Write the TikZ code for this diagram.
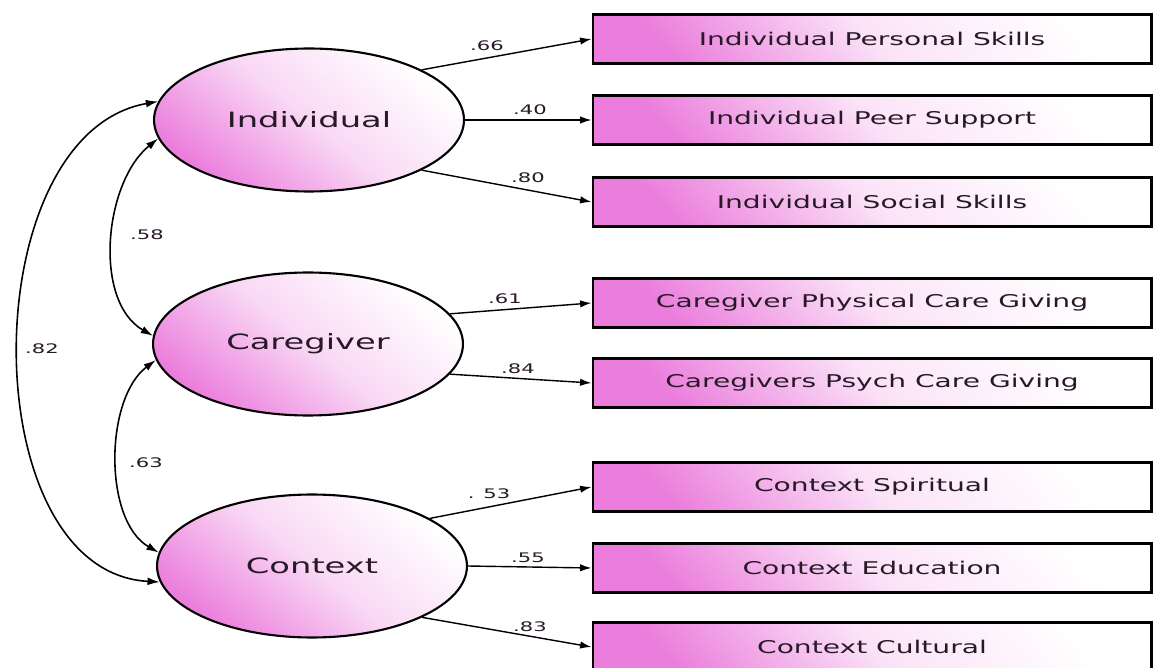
\documentclass[tikz,border=0pt]{standalone}
\usepackage{fontspec}
\newfontfamily\semfont{DejaVu Sans}[FakeStretch=1.6]
\usetikzlibrary{shapes.geometric,arrows.meta}
\definecolor{fillpink}{RGB}{235,125,220}
\definecolor{inkdark}{RGB}{40,25,40}

\begin{document}
\begin{tikzpicture}[x=0.02cm,y=0.02cm,
  latent/.style={ellipse,draw=black,line width=1.2pt,minimum width=6.2cm,minimum height=2.86cm,inner sep=0pt,
    top color=white,bottom color=fillpink,middle color=fillpink!30!white,shading angle=-40,
    font=\semfont\fontsize{12}{14}\selectfont,text=inkdark},
  obs/.style={rectangle,draw=black,line width=1.2pt,minimum width=11.18cm,minimum height=0.98cm,inner sep=0pt,
    top color=white,bottom color=fillpink,middle color=fillpink!22!white,shading angle=-48,
    font=\semfont\fontsize{10}{12}\selectfont,text=inkdark},
  load/.style={line width=0.8pt,-{Latex[length=6.5pt,width=4.2pt]}},
  cov/.style={line width=0.9pt,{Latex[length=7pt,width=4.4pt]}-{Latex[length=7pt,width=4.4pt]}},
  wt/.style={font=\semfont\fontsize{7.5}{9}\selectfont,text=inkdark,inner sep=0pt}]
\useasboundingbox (0,0) rectangle (1155,-668);
\fill[white] (0,0) rectangle (1155,-668);
% 潜变量（椭圆）
\node[latent] (ind)  at (309,-120) {Individual};
\node[latent] (care) at (308,-344) {Caregiver};
\node[latent] (ctx)  at (312,-566) {Context};
% 观测变量（矩形）
\foreach \y/\nm/\txt in {39/b1/Individual Personal Skills, 120/b2/Individual Peer Support,
    202/b3/Individual Social Skills, 303/b4/Caregiver Physical Care Giving,
    383/b5/Caregivers Psych Care Giving, 487/b6/Context Spiritual,
    568/b7/Context Education, 647/b8/Context Cultural}
  \node[obs] (\nm) at (872,-\y) {\txt};
% 因子载荷（箭头）
\foreach \src/\dst in {ind.24/b1, ind.0/b2, ind.336/b3, care.12/b4, care.348/b5,
    ctx.22/b6, ctx.0/b7, ctx.335/b8}
  \draw[load] (\src) -- (\dst.west);
\foreach \x/\y/\w [count=\i] in {487/46/.66, 530/110/.40, 528/178/.80, 505/299/.61,
    518/369/.84, 489/494/. 53, 528/558/.55, 530/627/.83}
  \node[wt] (wl\i) at (\x,-\y) {\w};
% 相关（双向弧线）
\draw[cov] (ind.173) to[out=190,in=177] (ctx.186);
\draw[cov] (ind.187) to[out=219,in=150,looseness=0.9] (care.177);
\draw[cov] (care.186) to[out=217,in=150,looseness=0.85] (ctx.175);
\node[wt] (wc1) at (147,-235) {.58};
\node[wt] (wc2) at (42,-349) {.82};
\node[wt] (wc3) at (146,-463) {.63};
\end{tikzpicture}
\end{document}
